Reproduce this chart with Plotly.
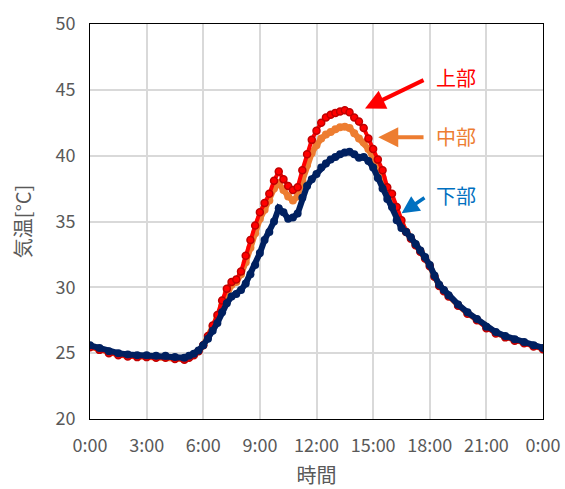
import plotly.graph_objects as go

# time in hours
hours = [0, 0.5, 1, 1.5, 2, 2.5, 3, 3.5, 4, 4.5, 5, 5.25, 5.5, 5.75,
         6, 6.25, 6.5, 6.75, 7, 7.25, 7.5, 7.75, 8, 8.25, 8.5, 8.75,
         9, 9.25, 9.5, 9.75, 10, 10.25, 10.5, 10.75, 11, 11.25, 11.5, 11.75,
         12, 12.25, 12.5, 12.75, 13, 13.25, 13.5, 13.75, 14, 14.25, 14.5, 14.75,
         15, 15.25, 15.5, 15.75, 16, 16.25, 16.5, 16.75, 17, 17.25, 17.5, 17.75,
         18, 18.25, 18.5, 18.75, 19, 19.5, 20, 20.5, 21, 21.5, 22, 22.5, 23, 23.5, 24]

upper = [25.45, 25.25, 25.0, 24.85, 24.75, 24.7, 24.7, 24.65, 24.65, 24.55, 24.5, 24.65, 24.85, 25.15,
         25.6, 26.3, 27.1, 27.9, 29.0, 29.9, 30.4, 30.6, 31.2, 32.4, 33.6, 34.7,
         35.7, 36.4, 37.1, 38.1, 38.8, 38.2, 37.7, 37.4, 37.6, 38.9, 40.1, 41.2,
         41.9, 42.5, 42.9, 43.1, 43.25, 43.35, 43.45, 43.3, 42.9, 42.6, 42.1, 41.3,
         40.5, 39.7, 38.9, 37.6, 37.1, 36.1, 35.1, 34.2, 33.7, 33.2, 32.7, 32.2,
         31.6, 30.8, 30.1, 29.7, 29.3, 28.6, 28.0, 27.5, 26.9, 26.5, 26.2, 25.95, 25.75, 25.5, 25.3]

middle = [25.5, 25.3, 25.05, 24.9, 24.8, 24.75, 24.75, 24.7, 24.7, 24.6, 24.55, 24.7, 24.9, 25.15,
          25.6, 26.2, 27.0, 27.7, 28.6, 29.6, 30.2, 30.4, 31.0, 31.9, 33.0, 34.1,
          35.2, 35.9, 36.6, 37.5, 37.9, 37.4, 36.9, 36.6, 36.9, 38.1, 39.3, 40.2,
          40.8, 41.3, 41.6, 41.8, 42.0, 42.15, 42.2, 42.1, 41.7, 41.3, 41.0, 40.5,
          39.8, 39.1, 38.3, 37.2, 36.5, 35.6, 34.8, 34.2, 33.75, 33.25, 32.75, 32.25,
          31.65, 30.85, 30.15, 29.75, 29.35, 28.65, 28.05, 27.55, 26.95, 26.55, 26.25, 26.0, 25.8, 25.55, 25.35]

lower = [25.6, 25.4, 25.15, 25.0, 24.9, 24.85, 24.85, 24.8, 24.8, 24.7, 24.65, 24.8, 24.95, 25.2,
         25.6, 26.1, 26.7, 27.3, 28.1, 28.8, 29.3, 29.5, 29.8, 30.3, 31.0, 31.7,
         32.6, 33.6, 34.2, 35.0, 36.0, 35.7, 35.2, 35.3, 35.6, 36.8, 37.7, 38.2,
         38.6, 39.1, 39.4, 39.7, 39.9, 40.1, 40.25, 40.3, 40.1, 39.85, 39.9, 39.6,
         39.1, 38.3, 37.5, 36.7, 36.1, 35.1, 34.5, 34.2, 33.8, 33.3, 32.8, 32.3,
         31.7, 30.9, 30.2, 29.8, 29.4, 28.7, 28.1, 27.6, 27.0, 26.6, 26.3, 26.05, 25.85, 25.6, 25.4]

tick_vals = [0, 3, 6, 9, 12, 15, 18, 21, 24]
tick_text = ["0:00", "3:00", "6:00", "9:00", "12:00", "15:00", "18:00", "21:00", "0:00"]
labels = ["上部", "中部", "下部"]

FONT = "Noto Sans CJK JP"
RED = "#FF0000"
ORANGE = "#ED7D31"
NAVY = "#002060"
BLUE = "#0070C0"

fig = go.Figure()
fig.add_trace(go.Scatter(x=hours, y=middle, mode="lines+markers", name=labels[1],
                         line=dict(color=ORANGE, width=6),
                         marker=dict(color=ORANGE, size=8)))
fig.add_trace(go.Scatter(x=hours, y=upper, mode="lines+markers", name=labels[0],
                         line=dict(color=RED, width=4),
                         marker=dict(color=RED, size=7, line=dict(color="#C00000", width=1.5))))
fig.add_trace(go.Scatter(x=hours, y=lower, mode="lines+markers", name=labels[2],
                         line=dict(color=NAVY, width=6),
                         marker=dict(color=NAVY, size=8)))

# labels with arrows
fig.add_annotation(x=19.39, y=45.97, text=labels[0], showarrow=False,
                   font=dict(family=FONT, size=20, color=RED))
fig.add_annotation(x=19.39, y=41.49, text=labels[1], showarrow=False,
                   font=dict(family=FONT, size=20, color=ORANGE))
fig.add_annotation(x=19.39, y=37.0, text=labels[2], showarrow=False,
                   font=dict(family=FONT, size=20, color=BLUE))

arrows = [((14.57, 43.59), (17.75, 45.79), RED, 4),
          ((15.27, 41.39), (17.75, 41.39), ORANGE, 4),
          ((16.51, 35.62), (17.8, 36.88), BLUE, 3.5)]
for (tx, ty), (sx, sy), c, w in arrows:
    fig.add_annotation(x=tx, y=ty, ax=sx, ay=sy, xref="x", yref="y", axref="x", ayref="y",
                       text="", showarrow=True, arrowhead=2, arrowsize=1.0,
                       arrowwidth=w, arrowcolor=c)

fig.update_layout(
    width=565, height=489,
    margin=dict(l=90, r=22, t=24, b=70),
    paper_bgcolor="white", plot_bgcolor="white",
    showlegend=False,
    font=dict(family=FONT, color="#595959", size=18),
)
fig.update_xaxes(range=[0, 24], tickvals=tick_vals, ticktext=tick_text,
                 showgrid=True, gridcolor="#D9D9D9", gridwidth=1.5,
                 showline=True, linecolor="#000000", linewidth=1, mirror=True,
                 ticks="", ticklabelstandoff=10, zeroline=False, automargin=False,
                 tickfont=dict(size=18, color="#595959"),
                 title=dict(text="時間", font=dict(size=20, color="#595959"), standoff=17))
fig.update_yaxes(range=[20, 50], tickvals=[20, 25, 30, 35, 40, 45, 50],
                 showgrid=True, gridcolor="#D9D9D9", gridwidth=1.5,
                 showline=True, linecolor="#000000", linewidth=1, mirror=True,
                 ticks="", ticklabelstandoff=10, zeroline=False, automargin=False,
                 tickfont=dict(size=18, color="#595959"),
                 title=dict(text="気温[°C]", font=dict(size=20, color="#595959"), standoff=18))

fig.write_html("out.html")
